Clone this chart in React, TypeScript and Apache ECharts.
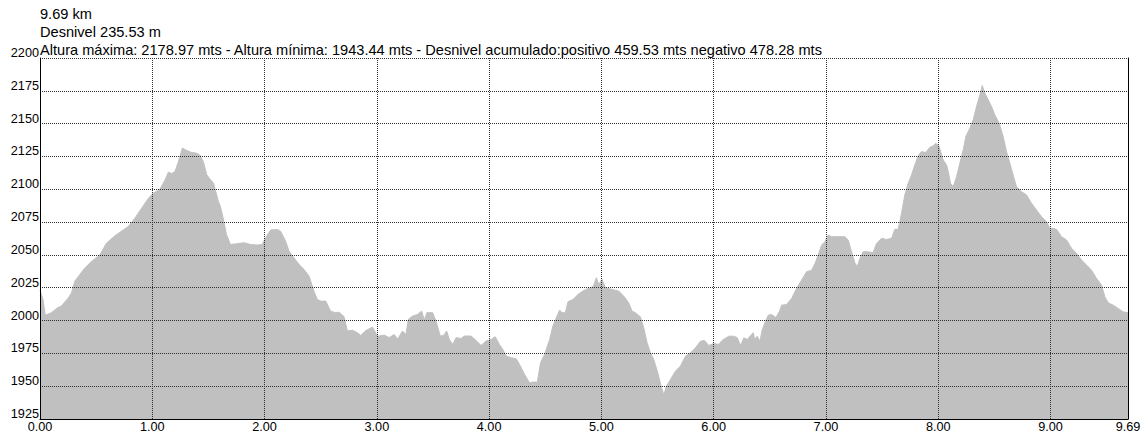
import React, { useEffect, useRef } from "react";
import * as echarts from "echarts";

const headerLines = [
  "9.69 km",
  "Desnivel 235.53 m",
  "Altura máxima: 2178.97 mts - Altura mínima: 1943.44 mts - Desnivel acumulado:positivo 459.53 mts negativo 478.28 mts",
];

const kms = [
  0, 0.027, 0.047, 0.101, 0.161, 0.19, 0.25, 0.28, 0.31, 0.354, 0.399, 0.458, 0.533, 0.592, 0.667, 0.741, 0.786,
  0.845, 0.905, 0.964, 1.009, 1.068, 1.113, 1.143, 1.173, 1.202, 1.232, 1.268, 1.306, 1.351, 1.396, 1.425, 1.455,
  1.485, 1.515, 1.545, 1.589, 1.607, 1.637, 1.661, 1.696, 1.756, 1.815, 1.875, 1.935, 1.979, 2.009, 2.054, 2.113,
  2.143, 2.188, 2.217, 2.262, 2.307, 2.351, 2.396, 2.44, 2.47, 2.5, 2.545, 2.589, 2.634, 2.664, 2.708, 2.738, 2.783,
  2.827, 2.857, 2.902, 2.961, 3.006, 3.065, 3.11, 3.155, 3.185, 3.229, 3.259, 3.28, 3.318, 3.363, 3.399, 3.423,
  3.446, 3.497, 3.527, 3.565, 3.595, 3.622, 3.646, 3.676, 3.705, 3.75, 3.78, 3.839, 3.875, 3.929, 3.973, 4.018,
  4.054, 4.092, 4.122, 4.152, 4.196, 4.241, 4.271, 4.315, 4.36, 4.39, 4.429, 4.458, 4.494, 4.539, 4.568, 4.598,
  4.628, 4.649, 4.679, 4.702, 4.747, 4.792, 4.836, 4.872, 4.926, 4.955, 4.976, 5.006, 5.036, 5.095, 5.154, 5.2,
  5.243, 5.273, 5.303, 5.347, 5.377, 5.407, 5.437, 5.466, 5.502, 5.532, 5.556, 5.579, 5.615, 5.66, 5.704, 5.749,
  5.794, 5.838, 5.883, 5.918, 5.957, 6.001, 6.046, 6.076, 6.135, 6.18, 6.21, 6.24, 6.269, 6.299, 6.329, 6.353,
  6.365, 6.388, 6.412, 6.433, 6.463, 6.486, 6.515, 6.554, 6.584, 6.605, 6.649, 6.694, 6.738, 6.783, 6.827, 6.872,
  6.902, 6.931, 6.961, 6.991, 7.02, 7.05, 7.109, 7.168, 7.198, 7.228, 7.257, 7.278, 7.302, 7.331, 7.376, 7.42,
  7.45, 7.495, 7.539, 7.584, 7.613, 7.643, 7.673, 7.702, 7.732, 7.762, 7.791, 7.821, 7.851, 7.889, 7.925, 7.955,
  7.979, 8.008, 8.044, 8.074, 8.089, 8.109, 8.133, 8.163, 8.192, 8.222, 8.246, 8.281, 8.311, 8.341, 8.371, 8.392,
  8.415, 8.445, 8.475, 8.504, 8.543, 8.578, 8.608, 8.638, 8.667, 8.697, 8.741, 8.786, 8.831, 8.875, 8.92, 8.964,
  8.994, 9.024, 9.053, 9.098, 9.143, 9.187, 9.232, 9.276, 9.321, 9.365, 9.41, 9.454, 9.484, 9.514, 9.558, 9.603,
  9.647, 9.69,
];

const elevations = [
  2023, 2016, 2004, 2006, 2010, 2011, 2017, 2021, 2030, 2035, 2040, 2045, 2050, 2059, 2064.5, 2069, 2071.6,
  2078, 2085.6, 2093, 2097, 2100, 2107, 2113, 2112, 2113.5, 2121, 2131.4, 2129.6, 2128, 2127.5, 2126, 2121,
  2111, 2107.7, 2104.7, 2090.7, 2087, 2075.8, 2065.6, 2058, 2058.5, 2059.3, 2058, 2057.5, 2058, 2063, 2069, 2069.4,
  2068, 2060.5, 2053, 2047.8, 2042.7, 2039, 2033.9, 2022.4, 2016, 2014.8, 2014.8, 2007, 2006, 2006.4, 2003, 1992, 1992.7,
  1990.7, 1988.6, 1992.4, 1995, 1988, 1988.9, 1987, 1989.4, 1986, 1992, 1989.4, 2000.9, 2003.4, 2004.7, 2007.2, 2000.4,
  2006, 2006, 1999.6, 1988.2, 1988.7, 1992, 1985.6, 1981.8, 1986.9, 1986.4, 1988.2, 1988.2, 1985.6, 1981, 1984.4, 1985.6,
  1987.7, 1981.8, 1978, 1972.9, 1971.7, 1970.9, 1966.6, 1959, 1952.6, 1953.1, 1953.1, 1967.9, 1974.2, 1985.6, 1995.8, 2002.1,
  2008, 2006, 2006, 2014.3, 2016.1, 2019.9, 2022.5, 2024, 2025.7, 2032.6, 2027.5, 2031.3, 2025, 2023.7, 2022.4, 2018.6,
  2013.5, 2007.2, 2005.9, 2002.9, 1994.5, 1983, 1975.4, 1970.4, 1960.2, 1950, 1943.4, 1950, 1955.1, 1961.5, 1965.3, 1972.9,
  1975.4, 1979.2, 1984.3, 1984.8, 1981, 1982.5, 1981.8, 1985, 1988.1, 1988.1, 1986.9, 1981, 1986.9, 1985.6, 1988.6, 1990.7,
  1985.6, 1988.1, 1984.3, 1993.2, 1999.6, 2004.1, 2004.6, 2002.3, 2006.7, 2011.7, 2012.2, 2016.8, 2024.5, 2030.8, 2037.2, 2038.4,
  2043.5, 2049.9, 2057.5, 2060.1, 2065.1, 2063.9, 2063.9, 2063.9, 2061.3, 2052.4, 2044, 2041, 2047.3, 2052.4, 2052.4, 2051.7,
  2058.8, 2062.6, 2061.8, 2062.6, 2069.5, 2069.5, 2081.7, 2095.7, 2104.6, 2110.9, 2118.5, 2125.4, 2128.7, 2128, 2132, 2133,
  2135.1, 2132.5, 2122.4, 2118.5, 2113.5, 2104.6, 2102, 2109.6, 2119.8, 2130, 2140.2, 2146.5, 2152.9, 2163, 2172, 2179,
  2173.2, 2168.1, 2163, 2156.7, 2150.3, 2140.2, 2128.7, 2119.8, 2110.9, 2102, 2098.2, 2095.7, 2089.3, 2084.2, 2079.1, 2075.3,
  2070.2, 2070.2, 2069.5, 2063.9, 2061.3, 2055, 2051.2, 2046.1, 2042.3, 2038.4, 2032.1, 2027, 2018.1, 2013.5, 2011.7, 2009.2,
  2006.6, 2005.9,
];

const xMin = 0;
const xMax = 9.69;
const xStep = 1;
const yMin = 1925;
const yMax = 2200;
const yStep = 25;

const FONT = '"Liberation Sans", Arial, Helvetica, sans-serif';

export default function App() {
  const ref = useRef<HTMLDivElement>(null);

  useEffect(() => {
    const chart = echarts.init(ref.current!, null, { renderer: "svg" });
    const data = kms.map((k, i) => [k, elevations[i]]);
    const headerY = [13.5, 31.5, 50];
    chart.setOption({
      animation: false,
      backgroundColor: "#ffffff",
      grid: { left: 40, right: 20, top: 58, bottom: 17, containLabel: false },
      graphic: headerLines.map((t, i) => ({
        type: "text",
        x: 40,
        y: headerY[i],
        z: 10,
        style: {
          text: t,
          fill: "#000",
          fontSize: 14.6,
          fontFamily: FONT,
          align: "left",
          verticalAlign: "middle",
        },
      })),
      xAxis: {
        type: "value",
        min: xMin,
        max: xMax,
        interval: xStep,
        z: 5,
        axisLine: { show: true, onZero: false, lineStyle: { color: "#000", width: 1 } },
        axisTick: { show: false },
        axisLabel: {
          color: "#000",
          fontSize: 12.7,
          fontFamily: FONT,
          margin: 1,
          formatter: (v: number) => v.toFixed(2),
        },
        splitLine: { show: true, lineStyle: { color: "#303030", type: [1, 1], width: 1 } },
      },
      yAxis: [
        {
          type: "value",
          min: yMin,
          max: yMax,
          interval: yStep,
          z: 5,
          axisLine: { show: true, lineStyle: { color: "#000", width: 1 } },
          axisTick: { show: false },
          axisLabel: {
            color: "#000",
            fontSize: 12.7,
            fontFamily: FONT,
            margin: 1,
            verticalAlign: "bottom",
            lineHeight: 10,
            formatter: (v: number) => String(v),
          },
          splitLine: { show: true, lineStyle: { color: "#303030", type: [1, 1], width: 1 } },
        },
        {
          type: "value",
          min: yMin,
          max: yMax,
          interval: yStep,
          position: "right",
          z: 6,
          axisLine: { show: true, lineStyle: { color: "#000", width: 1 } },
          axisTick: { show: false },
          axisLabel: { show: false },
          splitLine: { show: false },
        },
      ],
      series: [
        {
          type: "line",
          data,
          yAxisIndex: 0,
          symbol: "none",
          showSymbol: false,
          smooth: false,
          lineStyle: { color: "#c0c0c0", width: 1 },
          areaStyle: { color: "#c0c0c0", opacity: 1, origin: "start" },
          z: 2,
        },
      ],
    });
    return () => chart.dispose();
  }, []);

  return (
    <div
      ref={ref}
      style={{ position: "fixed", left: 0, top: 0, width: 1148, height: 436, background: "#fff" }}
    />
  );
}
